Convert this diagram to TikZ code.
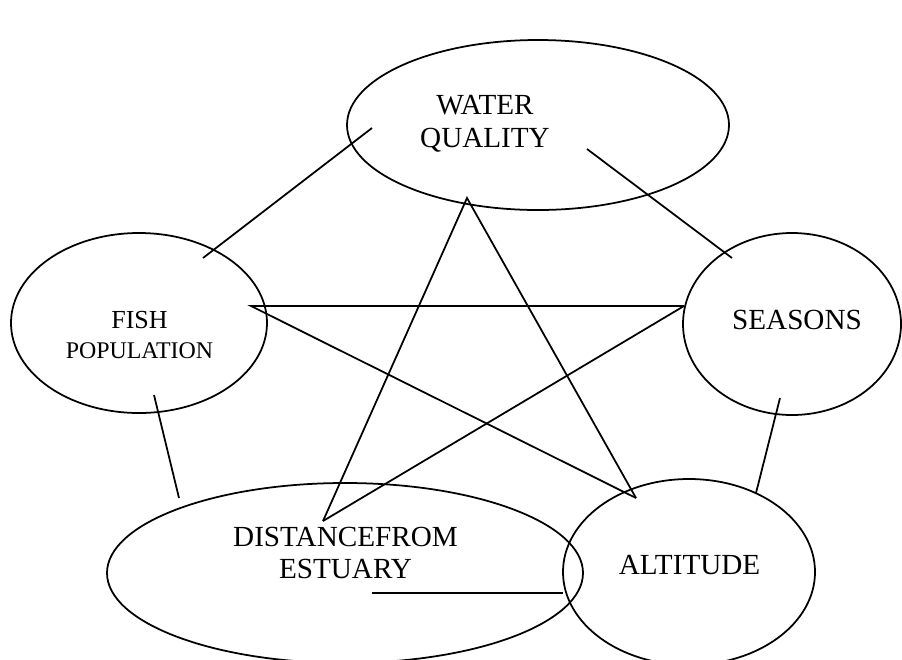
\documentclass[tikz,border=0pt]{standalone}
\usepackage{fontspec}
\setmainfont{Liberation Serif}
\usetikzlibrary{shapes.geometric}
\begin{document}
\begin{tikzpicture}[
	bubble/.style={draw, ellipse, line width=1pt, inner sep=0pt},
	link/.style={line width=1pt},
	word/.style={align=center, font=\fontsize{16.6}{18.7}\selectfont}]
	\useasboundingbox (0,0) rectangle (18.04,-13.18);

	\node[bubble, minimum width=7.64cm, minimum height=3.4cm] (wq) at (10.76,-2.5) {};
	\node[word] (wqtext) at (9.7,-2.48) {WATER\\QUALITY};
	\node[bubble, minimum width=5.12cm, minimum height=3.6cm] (fish) at (2.78,-6.46) {};
	\node[align=center, font=\fontsize{14.8}{16.6}\selectfont] (fishtext) at (2.79,-6.7) {FISH\\\fontsize{13.6}{16.6}\selectfont POPULATION};
	\node[bubble, minimum width=4.36cm, minimum height=3.64cm] (seas) at (15.84,-6.48) {};
	\node[word] (seastext) at (15.94,-6.4) {SEASONS};
	\node[bubble, minimum width=9.52cm, minimum height=3.6cm] (dist) at (6.9,-11.46) {};
	\node[word] (disttext) at (6.91,-11.06) {DISTANCEFROM\\ESTUARY};
	\node[bubble, minimum width=5.04cm, minimum height=3.72cm] (alt) at (13.78,-11.44) {};
	\node[word] (alttext) at (13.79,-11.3) {ALTITUDE};

	\coordinate (wq-fish) at (7.44,-2.56);
	\coordinate (fish-wq) at (4.06,-5.16);
	\coordinate (wq-seas) at (11.74,-2.98);
	\coordinate (seas-wq) at (14.64,-5.16);
	\coordinate (fish-dist) at (3.08,-7.9);
	\coordinate (dist-fish) at (3.58,-9.96);
	\coordinate (seas-alt) at (15.6,-7.96);
	\coordinate (alt-seas) at (15.12,-9.86);
	\coordinate (dist-alt) at (7.44,-11.86);
	\coordinate (alt-dist) at (11.26,-11.86);

	\coordinate (wq-tip) at (9.34,-3.96);
	\coordinate (fish-tip) at (5.02,-6.12);
	\coordinate (seas-tip) at (13.68,-6.12);
	\coordinate (dist-tip) at (6.46,-10.42);
	\coordinate (alt-tip) at (12.72,-9.96);

	\draw[link] (wq-fish) -- (fish-wq);
	\draw[link] (wq-seas) -- (seas-wq);
	\draw[link] (fish-dist) -- (dist-fish);
	\draw[link] (seas-alt) -- (alt-seas);
	\draw[link] (dist-alt) -- (alt-dist);

	\draw[link] (dist-tip) -- (wq-tip) -- (alt-tip);
	\draw[link] (seas-tip) -- (fish-tip) -- (alt-tip);
	\draw[link] (seas-tip) -- (dist-tip);
\end{tikzpicture}
\end{document}
